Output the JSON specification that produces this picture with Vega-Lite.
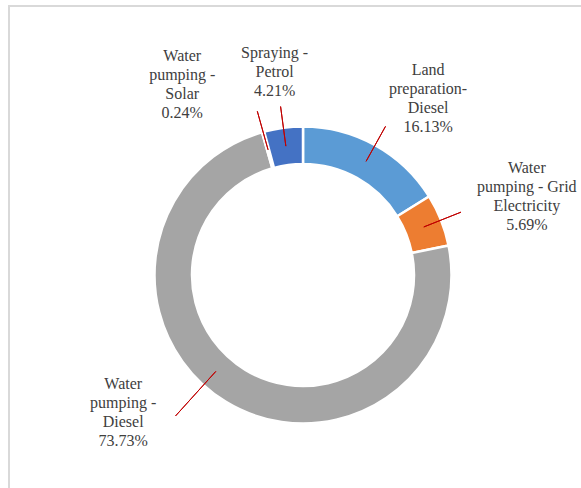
{
  "$schema": "https://vega.github.io/schema/vega-lite/v6.json",
  "width": 588,
  "height": 538,
  "autosize": {"type": "none"},
  "padding": {"left": 9, "top": 6, "right": -16, "bottom": -56},
  "background": "white",
  "view": {"stroke": "#D9D9D9", "strokeWidth": 2},
  "data": {
    "values": [
      {"category": "Land preparation-Diesel", "value": 16.13, "rank": 1, "label": "Land\npreparation-\nDiesel\n16.13%"},
      {"category": "Water pumping - Grid Electricity", "value": 5.69, "rank": 2, "label": "Water\npumping - Grid\nElectricity\n5.69%"},
      {"category": "Water pumping - Diesel", "value": 73.73, "rank": 3, "label": "Water\npumping -\nDiesel\n73.73%"},
      {"category": "Water pumping - Solar", "value": 0.24, "rank": 4, "label": "Water\npumping -\nSolar\n0.24%"},
      {"category": "Spraying - Petrol", "value": 4.21, "rank": 5, "label": "Spraying -\nPetrol\n4.21%"}
    ]
  },
  "resolve": {"scale": {"theta": "independent"}},
  "layer": [
    {
      "mark": {"type": "arc", "radius": 148.5, "radius2": 111, "stroke": "white", "strokeWidth": 2.5},
      "encoding": {
        "theta": {"field": "value", "type": "quantitative", "stack": true},
        "order": {"field": "rank", "type": "quantitative"},
        "color": {
          "field": "category",
          "type": "nominal",
          "legend": null,
          "scale": {
            "domain": ["Land preparation-Diesel", "Water pumping - Grid Electricity", "Water pumping - Diesel", "Water pumping - Solar", "Spraying - Petrol"],
            "range": ["#5B9BD5", "#ED7D31", "#A5A5A5", "#FFC000", "#4472C4"]
          }
        }
      }
    },
    {
      "mark": {"type": "arc", "radius": 170, "radius2": 130, "padAngle": 3.14159, "fillOpacity": 0, "stroke": "#C00000", "strokeWidth": 1},
      "encoding": {
        "theta": {"field": "value", "type": "quantitative", "stack": true},
        "order": {"field": "rank", "type": "quantitative"},
        "detail": {"field": "category", "type": "nominal"},
        "strokeOpacity": {"condition": {"test": "datum.category === 'Water pumping - Diesel'", "value": 0}, "value": 1}
      }
    },
    {
      "transform": [{"filter": "datum.category === 'Water pumping - Diesel'"}],
      "mark": {"type": "arc", "radius": 190, "radius2": 130, "padAngle": 3.14159, "fillOpacity": 0, "stroke": "#C00000", "strokeWidth": 1},
      "encoding": {
        "theta": {"field": "value", "type": "quantitative", "stack": true, "scale": {"domain": [0, 100], "range": [3.875, 3.88]}}
      }
    },
    {
      "mark": {"type": "text", "radius": 200, "dx": 28, "dy": -30, "font": "Liberation Serif, Times New Roman, serif", "fontSize": 16, "color": "#404040", "lineBreak": "\n", "lineHeight": 19, "align": "center", "baseline": "middle"},
      "encoding": {
        "theta": {"field": "value", "type": "quantitative", "stack": true},
        "order": {"field": "rank", "type": "quantitative"},
        "text": {"condition": {"test": "datum.category === 'Land preparation-Diesel'", "field": "label"}, "value": ""}
      }
    },
    {
      "mark": {"type": "text", "radius": 200, "dx": 38, "dy": -33, "font": "Liberation Serif, Times New Roman, serif", "fontSize": 16, "color": "#404040", "lineBreak": "\n", "lineHeight": 19, "align": "center", "baseline": "middle"},
      "encoding": {
        "theta": {"field": "value", "type": "quantitative", "stack": true},
        "order": {"field": "rank", "type": "quantitative"},
        "text": {"condition": {"test": "datum.category === 'Water pumping - Grid Electricity'", "field": "label"}, "value": ""}
      }
    },
    {
      "mark": {"type": "text", "radius": 200, "dx": -76, "dy": -62, "font": "Liberation Serif, Times New Roman, serif", "fontSize": 16, "color": "#404040", "lineBreak": "\n", "lineHeight": 19, "align": "center", "baseline": "middle"},
      "encoding": {
        "theta": {"field": "value", "type": "quantitative", "stack": true},
        "order": {"field": "rank", "type": "quantitative"},
        "text": {"condition": {"test": "datum.category === 'Water pumping - Diesel'", "field": "label"}, "value": ""}
      }
    },
    {
      "mark": {"type": "text", "radius": 200, "dx": -67, "dy": -26, "font": "Liberation Serif, Times New Roman, serif", "fontSize": 16, "color": "#404040", "lineBreak": "\n", "lineHeight": 19, "align": "center", "baseline": "middle"},
      "encoding": {
        "theta": {"field": "value", "type": "quantitative", "stack": true},
        "order": {"field": "rank", "type": "quantitative"},
        "text": {"condition": {"test": "datum.category === 'Water pumping - Solar'", "field": "label"}, "value": ""}
      }
    },
    {
      "mark": {"type": "text", "radius": 200, "dx": -2, "dy": -24, "font": "Liberation Serif, Times New Roman, serif", "fontSize": 16, "color": "#404040", "lineBreak": "\n", "lineHeight": 19, "align": "center", "baseline": "middle"},
      "encoding": {
        "theta": {"field": "value", "type": "quantitative", "stack": true},
        "order": {"field": "rank", "type": "quantitative"},
        "text": {"condition": {"test": "datum.category === 'Spraying - Petrol'", "field": "label"}, "value": ""}
      }
    }
  ]
}
